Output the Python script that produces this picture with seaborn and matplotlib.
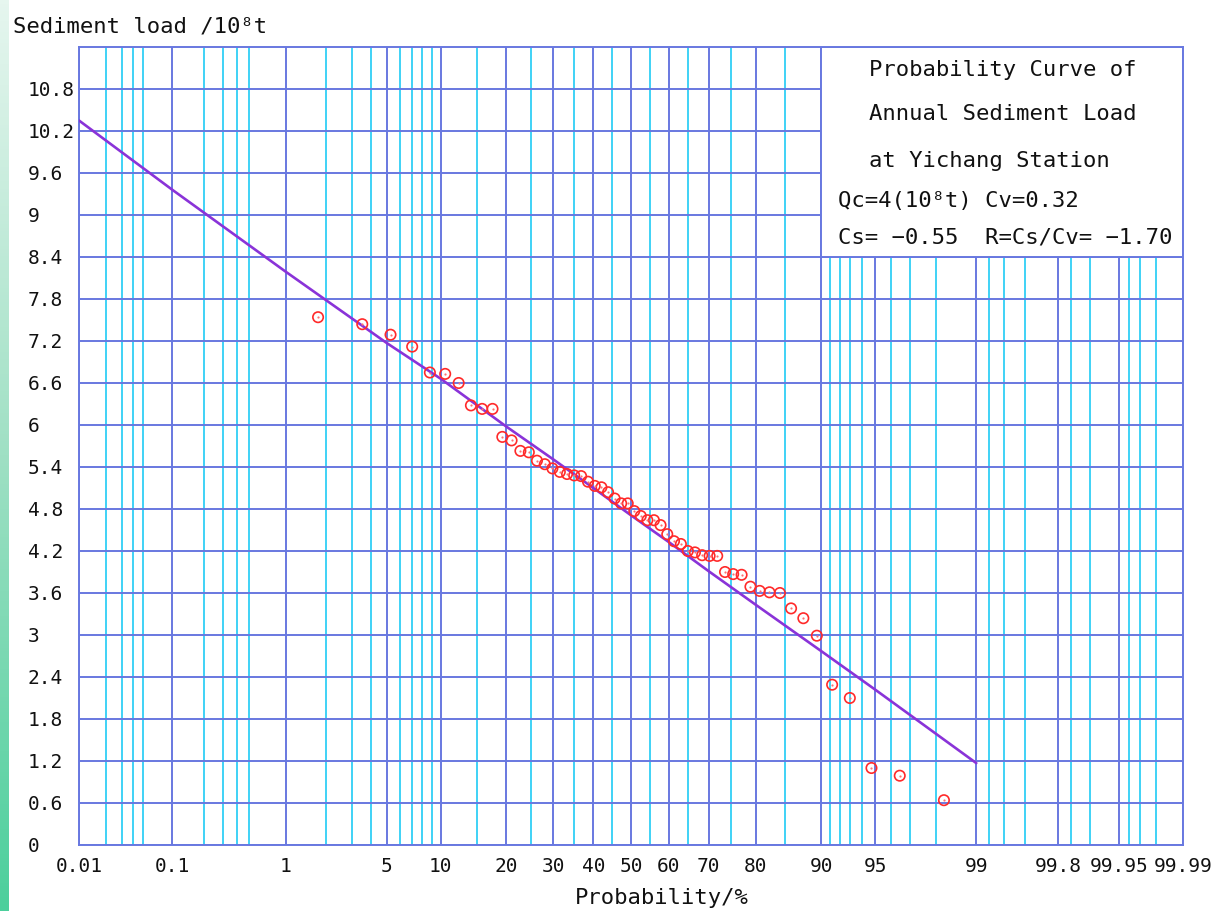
import math
import numpy as np
import matplotlib
matplotlib.use("Agg")
import matplotlib.pyplot as plt
import seaborn as sns
from matplotlib.patches import Rectangle
from matplotlib.ticker import FixedLocator, NullFormatter
from matplotlib.colors import LinearSegmentedColormap

# ---------------- data ----------------
obs_prob = [1.75, 3.51, 5.26, 7.02, 8.77, 10.53, 12.28, 14.04, 15.79, 17.54,
            19.30, 21.05, 22.81, 24.56, 26.32, 28.07, 29.82, 31.58, 33.33, 35.09,
            36.84, 38.60, 40.35, 42.11, 43.86, 45.61, 47.37, 49.12, 50.88, 52.63,
            54.39, 56.14, 57.89, 59.65, 61.40, 63.16, 64.91, 66.67, 68.42, 70.18,
            71.93, 73.68, 75.44, 77.19, 78.95, 80.70, 82.46, 84.21, 85.96, 87.72,
            89.47, 91.23, 92.98, 94.74, 96.49, 98.25]
obs_load = [7.54, 7.44, 7.29, 7.12, 6.75, 6.73, 6.60, 6.28, 6.23, 6.23,
            5.83, 5.78, 5.63, 5.61, 5.49, 5.44, 5.38, 5.33, 5.30, 5.28,
            5.27, 5.19, 5.13, 5.11, 5.04, 4.95, 4.88, 4.88, 4.77, 4.70,
            4.64, 4.64, 4.57, 4.44, 4.34, 4.30, 4.20, 4.18, 4.14, 4.13,
            4.13, 3.90, 3.87, 3.86, 3.69, 3.63, 3.61, 3.60, 3.38, 3.24,
            2.99, 2.29, 2.10, 1.10, 0.99, 0.64]

curve_prob = [0.01, 0.1, 1, 5, 10, 20, 30, 40, 50, 60, 70, 80, 90, 95, 99]
curve_load = [10.35, 9.36, 8.19, 7.17, 6.66, 5.98, 5.51, 5.10, 4.71, 4.33,
              3.91, 3.43, 2.77, 2.22, 1.17]

x_ticks = [0.01, 0.1, 1, 5, 10, 20, 30, 40, 50, 60, 70, 80, 90, 95, 99,
           99.8, 99.95, 99.99]
x_tick_labels = ["0.01", "0.1", "1", "5", "10", "20", "30", "40", "50", "60",
                 "70", "80", "90", "95", "99", "99.8", "99.95", "99.99"]
x_minor = [0.02, 0.03, 0.04, 0.05, 0.2, 0.3, 0.4, 0.5, 2, 3, 4, 6, 7, 8, 9,
           15, 25, 35, 45, 55, 65, 75, 85, 91, 92, 93, 94, 96, 97, 98,
           99.2, 99.4, 99.6, 99.85, 99.9, 99.96, 99.97, 99.98]
y_ticks = [0, 0.6, 1.2, 1.8, 2.4, 3, 3.6, 4.2, 4.8, 5.4, 6, 6.6, 7.2, 7.8,
           8.4, 9, 9.6, 10.2, 10.8]
y_tick_labels = ["0", "0.6", "1.2", "1.8", "2.4", "3", "3.6", "4.2", "4.8",
                 "5.4", "6", "6.6", "7.2", "7.8", "8.4", "9", "9.6", "10.2",
                 "10.8"]

title_lines = ["Probability Curve of", "Annual Sediment Load",
               "at Yichang Station"]
param_lines = ["Qc=4(10\u2078t) Cv=0.32", "Cs= \u22120.55  R=Cs/Cv= \u22121.70"]

# ---------------- normal probability scale ----------------
_A = [-3.969683028665376e+01, 2.209460984245205e+02, -2.759285104469687e+02,
      1.383577518672690e+02, -3.066479806614716e+01, 2.506628277459239e+00]
_B = [-5.447609879822406e+01, 1.615858368580409e+02, -1.556989798598866e+02,
      6.680131188771972e+01, -1.328068155288572e+01]
_C = [-7.784894002430293e-03, -3.223964580411365e-01, -2.400758277161838e+00,
      -2.549732539343734e+00, 4.374664141464968e+00, 2.938163982698783e+00]
_D = [7.784695709041462e-03, 3.224671290700398e-01, 2.445134137142996e+00,
      3.754408661907416e+00]


def prob_to_z(pct):
    arr = np.asarray(pct, dtype=float)
    shape = arr.shape
    p = np.clip(arr.ravel() / 100.0, 1e-9, 1 - 1e-9)
    out = np.empty_like(p)
    plow = 0.02425
    lo = p < plow
    hi = p > 1 - plow
    mid = ~(lo | hi)
    q = np.sqrt(-2 * np.log(p[lo]))
    out[lo] = (((((_C[0]*q+_C[1])*q+_C[2])*q+_C[3])*q+_C[4])*q+_C[5]) / \
        ((((_D[0]*q+_D[1])*q+_D[2])*q+_D[3])*q+1)
    q = np.sqrt(-2 * np.log(1 - p[hi]))
    out[hi] = -(((((_C[0]*q+_C[1])*q+_C[2])*q+_C[3])*q+_C[4])*q+_C[5]) / \
        ((((_D[0]*q+_D[1])*q+_D[2])*q+_D[3])*q+1)
    q = p[mid] - 0.5
    r = q * q
    out[mid] = (((((_A[0]*r+_A[1])*r+_A[2])*r+_A[3])*r+_A[4])*r+_A[5])*q / \
        (((((_B[0]*r+_B[1])*r+_B[2])*r+_B[3])*r+_B[4])*r+1)
    return out.reshape(shape)


_erf = np.vectorize(math.erf, otypes=[float])


def z_to_prob(z):
    arr = np.asarray(z, dtype=float)
    return 50.0 * (1.0 + _erf(arr / math.sqrt(2.0)))


# ---------------- styling ----------------
sns.set_style("white")
plt.rcParams["font.family"] = ["DejaVu Sans Mono", "DejaVu Sans"]

DARK = "#6878e0"
CYAN = "#3fd2f6"
PURPLE = "#8a33d8"
RED = "#ff2a2a"

W, H = 1227, 911
fig = plt.figure(figsize=(W / 100, H / 100), dpi=100)
fig.patch.set_facecolor("white")

# decorative green stripe at the left edge
sax = fig.add_axes([0, 0, 9 / W, 1])
grad = np.linspace(0, 1, 256).reshape(-1, 1)
cmap = LinearSegmentedColormap.from_list("g", ["#e6f6ef", "#9fe0c4", "#4ccf9c"])
sax.imshow(grad, aspect="auto", cmap=cmap)
sax.axis("off")

ax = fig.add_axes([79 / W, 1 - 845 / H, 1104 / W, 798 / H])
ax.set_xscale("function", functions=(prob_to_z, z_to_prob))

sns.lineplot(x=curve_prob, y=curve_load, ax=ax, color=PURPLE, linewidth=1.9,
             sort=False, estimator=None, zorder=3)
sns.scatterplot(x=obs_prob, y=obs_load, ax=ax, marker="o", s=56,
                facecolors="none", edgecolor=RED, linewidth=1.2, zorder=4)
sns.scatterplot(x=obs_prob, y=obs_load, ax=ax, marker="o", s=2.5,
                color="#ff7070", linewidth=0, zorder=4)

ax.set_xlim(0.01, 99.99)
ax.set_ylim(0, 11.4)

ax.set_xticks(x_ticks)
ax.set_xticklabels(x_tick_labels)
ax.xaxis.set_minor_locator(FixedLocator(x_minor))
ax.xaxis.set_minor_formatter(NullFormatter())
ax.set_yticks(y_ticks)
ax.set_yticklabels(y_tick_labels)

ax.set_axisbelow(True)
ax.grid(which="major", axis="both", color=DARK, linewidth=1.4)
ax.grid(which="minor", axis="x", color=CYAN, linewidth=1.4)
for sp in ax.spines.values():
    sp.set_color(DARK)
    sp.set_linewidth(1.4)
    sp.set_visible(True)

ax.tick_params(which="both", length=0)
ax.tick_params(axis="x", pad=9, labelsize=14, labelcolor="#111111")
ax.tick_params(axis="y", pad=37, labelsize=14, labelcolor="#111111")
for lab in ax.get_yticklabels():
    lab.set_horizontalalignment("left")

# info box in the upper right
box = Rectangle((90, 8.4), 99.99 - 90, 11.4 - 8.4, facecolor="white",
                edgecolor=DARK, linewidth=1.4, zorder=1.5)
ax.add_patch(box)

title_y = [0.9712, 0.9160, 0.8571]
for txt, yy in zip(title_lines, title_y):
    ax.text(0.7156, yy, txt, transform=ax.transAxes, ha="left", va="center",
            fontsize=16, color="#111111", zorder=5)
param_y = [0.8070, 0.7607]
for txt, yy in zip(param_lines, param_y):
    ax.text(0.6875, yy, txt, transform=ax.transAxes, ha="left", va="center",
            fontsize=16, color="#111111", zorder=5)

ax.set_xlabel("Probability/%", fontsize=16, color="#111111")
ax.xaxis.set_label_coords((662 - 79) / 1104, (845 - 898) / 798)
ax.xaxis.label.set_verticalalignment("center")
ax.set_ylabel("")

fig.text(13 / W, 1 - 27 / H, "Sediment load /10\u2078t", ha="left",
         va="center", fontsize=16, color="#111111")

fig.savefig("out.png", dpi=100)
